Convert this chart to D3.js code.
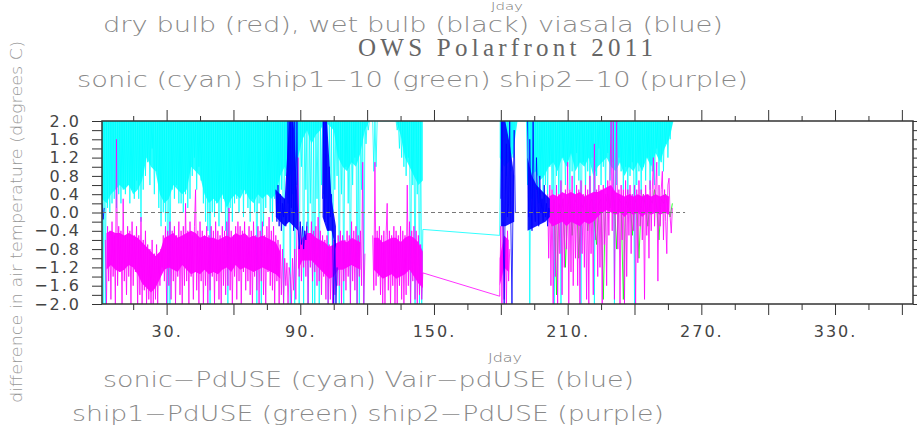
<!DOCTYPE html>
<html>
<head>
<meta charset="utf-8">
<script src="https://cdn.jsdelivr.net/npm/d3@7"></script>
<style>
  body { margin: 0; background: #fff; }
  svg { display: block; }
</style>
</head>
<body>
<svg id="chart" width="917" height="432"></svg>
<script>
// ---------------------------------------------------------------------------
// Air-temperature differences against the PdUSE reference, OWS Polarfront 2011.
// Traces are sampled every half Julian day from their start day; the dense
// core of each record is kept as a two-day envelope. null = no data.
// ---------------------------------------------------------------------------
const dayStep = 0.5;
const bandStep = 2;

// sonic − PdUSE (cyan) trace
const sonicLeg1Start = 1;
const sonicLeg1 = [
  2,-2,2,-2,2,0.1,2,0.0,2,0.2,
  2,0.3,2,0.1,2,0.4,2,0.2,2,0.5,
  2,0.4,2,0.6,2,0.2,2,0.5,2,0.3,
  2,0.7,2,0.3,2,-0.2,2,0.5,2,0.8,
  2,1.1,2,0.6,2,1.4,2,0.4,2,0.9,
  2,0.1,2,-0.3,2,0.0,2,-0.2,2,-2,
  2,-2,2,0.5,2,0.3,2,0.6,2,0.2,
  2,0.2,2,0.0,2,0.4,2,0.1,2,0.3,
  2,0.8,2,1.2,2,0.5,2,1.0,2,0.7,
  2,0.2,2,-0.2,2,-0.4,2,-2,2,0.0,
  2,-0.1,2,0.2,2,-0.3,2,0.0,2,0.3,
  2,-0.4,2,-2,2,0.1,2,-0.2,2,0.2,
  2,0.3,2,0.0,2,0.5,2,-0.1,2,0.4,
  2,0.1,2,-0.2,2,0.3,2,0.0,2,-2,
  2,0.2,2,-2,2,-0.3,2,0.1,2,0.4,
  2,0.0,2,-0.2,2,0.3,2,-0.1,2,0.2,
  2,0.5,2,-2,2,0.8,2,0.2,2,-2,
  2,0.4,2,-2,2,0.6,2,-2,2,1.0,
  2,-2,2,0.5,2,-2,2,0.2,2,-2,
  2,-2,2,0.3,2,-2,2,0.6,2,0.4,
  2,0.3,2,-2,2,0.0,2,-2,2,0.5,
  2,0.8,2,-2,2,0.4,2,-2,2,1.0,
  2,0.2,2,-2,2,0.6,2,1.2,2,-2,
  2,-2,2,0.5,2,-2,2,1.5,2,1.8,
  2,2,2,2,0.9,2,1.0,2,2,2,
  2,2,2,2,2,2,2,2,2,2,
  2,2,2,2,2,1.8,2,1.4,2,1.2,
  2,1.0,2,0.8,2,1.2,2,-2,2,0.6,
  2,-2,2,0.4,2,-2,2,-2,-0.37
];
const sonicLeg2Start = 179.5;
const sonicLeg2 = [
  -0.5,2,0.9,2,1.1,2,0.8,2,1.3,2,
  0.9,2,1.2,2,2,2,2,2,2,2,
  2,2,2,2,2,0.6,2,-2,2,0.3,
  2,0.0,2,0.5,2,0.2,2,0.8,2,0.4,
  2,0.6,2,0.3,2,1.0,2,0.5,2,-2,
  2,0.8,2,0.4,2,-2,2,1.2,2,0.6,
  2,1.0,2,0.5,2,0.9,2,0.3,2,1.3,
  2,0.7,2,-2,2,1.1,2,0.5,2,0.9,
  2,0.4,2,1.2,2,-2,2,0.8,2,1.4,
  2,0.6,2,1.0,2,0.5,2,1.3,2,0.7,
  2,1.1,2,-2,2,0.6,2,1.2,2,0.9,
  2,0.5,2,1.0,2,0.4,2,0.8,2,1.1,
  2,-2,2,0.6,2,0.9,2,0.4,2,1.0,
  2,0.7,2,1.2,2,0.5,2,0.9,2,0.6,
  2,1.4,2,0.8,2,1.1,2,0.9,2,1.5,
  2,1.2,2,1.6,2,2
];
// sonic − PdUSE dense core: from the top of the scale down to this floor
const sonicFloor1Start = 1;
const sonicFloor1 = [
  0.3,0.2,0.4,0.5,0.6,0.5,0.6,0.4,0.5,0.7,
  1.2,1.0,0.9,0.4,0.2,0.3,0.6,0.5,0.4,0.5,
  1.0,0.9,0.8,0.4,0.2,0.3,0.2,0.4,0.1,0.3,
  0.4,0.3,0.5,0.3,0.2,0.4,0.3,0.4,0.3,0.4,
  0.8,1.0,0.8,0.9,1.2,1.6,1.8,1.5,1.7,1.8,
  2,1.9,1.8,1.2,1.0,0.9,1.1,1.0,1.3,1.8,
  2,2,2,2,2,2,2,1.7,1.2,1.0,
  0.8,0.6,0.7
];
const sonicFloor2Start = 179.5;
const sonicFloor2 = [
  1.2,1.0,1.1,1.3,2,2,2,0.8,0.9,0.7,
  0.8,1.0,1.1,0.9,1.2,1.0,1.3,0.9,1.1,1.0,
  1.2,0.8,1.0,1.1,1.2,1.0,0.9,1.1,0.8,1.0,
  0.9,1.1,0.9,1.2,1.0,1.3,1.1,1.4,1.6,2
];

// ship2 − PdUSE (purple) trace
const ship2Leg1Start = 2.5;
const ship2Leg1 = [
  -0.6,-2,-0.3,-1.5,-0.4,-1.9,-0.2,-1.4,-0.5,-2,
  1.6,-1.6,-0.3,-1.3,-0.4,-2,0.3,-1.5,-0.5,-1.8,
  -0.3,-1.4,-0.4,-2,-0.2,-1.6,-0.5,-1.3,-0.3,-2,
  -0.5,-1.8,-0.1,-2,-0.6,-1.7,-0.4,-2,-0.7,-1.9,
  -0.8,-2,-0.6,-2,-0.9,-1.9,-0.7,-2,-0.9,-1.6,
  -0.8,-1.2,-0.5,-1.5,-0.3,-2,-0.4,-1.6,-0.2,-1.9,
  -0.4,-1.5,-0.3,-2,-0.5,-1.4,-0.2,-1.8,-0.4,-2,
  -0.3,-1.6,0.2,-1.5,-0.4,-2,-0.2,-1.4,-0.5,-1.9,
  -0.3,0.5,-1.7,-0.4,-2,-0.2,-1.5,-0.4,-2,-0.5,
  -1.6,-0.3,-2,-0.5,-1.7,-0.3,-1.4,-0.4,-2,-0.2,
  -1.5,-0.4,-1.9,-0.5,-2,-0.3,-1.6,-0.4,-1.8,-0.2,
  -1.6,0.1,-1.7,-0.4,-2,-0.5,-1.4,-0.3,-1.9,-0.2,
  -1.5,-0.3,-2,-0.4,-1.3,-0.2,-1.7,-0.5,-1.5,-0.3,
  -1.8,-0.4,-2,-0.2,-1.4,-0.5,-1.7,-0.3,-2,-0.4,
  -1.5,-0.2,-1.8,-0.5,-2,-0.3,-1.3,-0.1,-1.6,-0.4,
  -1.7,-0.3,-2,-0.5,-1.5,-0.6,-2,-0.7,-1.8,-0.8,
  -2,-1.0,-1.6,-1.1,-2,-1.2,-1.4,-2,-1.0,-1.7,
  -0.8,-1.9,-0.4,1.2,-1.4,-0.3,-1.5,-0.6,-1.2,-0.4,
  -1.4,-0.3,-2,-0.5,-1.2,-0.2,-1.5,-0.4,-1.3,-0.3,
  -1.6,-0.1,-1.5,-0.4,-1.8,-0.5,-1.4,-0.6,-1.9,-0.5,
  -2,-0.7,-1.9,-0.8,-2,-0.6,-1.8,-0.7,-1.6,-0.5,
  -1.6,-0.4,-2,-0.5,-1.5,-0.6,-1.7,-0.4,-1.4,-0.5,
  -2,-0.2,-1.5,-0.4,-1.7,-0.3,-2,-0.5,-1.4,-0.4,
  -1.6,1.1,-2,-0.9,null,null,null,null,null,null,
  -0.5,-1.7,1.1,-1.6,-0.4,-1.4,-0.3,-1.8,-0.5,-2,
  -0.4,-2,-0.5,0.2,-1.7,-0.4,-2,-0.5,-1.6,-0.3,
  -2,-0.4,-2,-0.5,-1.6,-0.3,-1.9,-0.4,-2,-0.5,
  -1.8,0.6,-1.6,-0.2,-2,-0.4,-1.5,-0.3,-1.9,-0.4,
  -2,-0.5,-1.8,-0.7,-1.9,-1.32
];
const ship2Leg2Start = 179.5;
const ship2Leg2 = [
  -1.83,-0.3,-2,-0.2,-1.9,-0.6,-2,-0.4,-1.5,-0.8,
  null,null,null,null,null,null,null,null,null,null,
  null,null,null,null,null,null,null,null,null,null,
  null,null,null,null,null,null,null,null,null,null,
  null,null,null,0.4,-1.0,0.6,-1.6,0.5,-2,0.3,
  -1.4,0.6,-2,0.4,-0.9,0.7,-1.8,0.3,-1.2,0.5,
  -0.8,1.1,-2,0.5,-1.3,0.8,-1.6,0.4,-1.0,0.6,
  -1.6,0.5,-2,0.7,-0.9,0.4,-1.2,0.6,-1.9,0.5,
  -2,0.8,-0.9,0.4,-1.8,1.5,-0.6,0.5,-1.4,0.6,
  -1.2,0.5,-2,0.6,-0.7,0.4,-1.6,0.7,-0.5,0.8,
  2,-0.4,2,-1.9,0.6,2,-0.8,0.5,-2,0.6,
  -0.6,0.5,-2,0.7,-1.4,0.5,-0.5,0.6,-0.9,0.4,
  -0.4,0.6,-2,0.5,-1.1,0.7,-0.3,0.5,-0.6,0.4,
  -1.9,0.6,-0.5,0.4,-1.0,0.7,-0.4,0.5,1.2,-0.3,
  0.5,1.1,-1.5,0.6,-0.3,0.5,0.9,-0.6,0.5,-0.2,
  -0.9,0.6,0.75,-0.1,-0.45,0.1
];
// ship2 − PdUSE dense core (upper and lower edge)
const ship2Band1Start = 3;
const ship2Upper1 = [
  -0.45,-0.4,-0.45,-0.45,-0.5,-0.45,-0.5,-0.55,-0.65,-0.75,
  -0.85,-0.95,-0.85,-0.55,-0.5,-0.45,-0.55,-0.5,-0.45,-0.4,
  -0.45,-0.55,-0.5,-0.55,-0.55,-0.6,-0.55,-0.5,-0.55,-0.45,
  -0.5,-0.45,-0.55,-0.5,-0.55,-0.5,-0.55,-0.6,-0.65,-0.85,
  null,null,null,-0.75,-0.55,-0.45,-0.45,-0.55,-0.6,-0.65,
  -0.75,-0.7,-0.65,-0.6,-0.65,-0.55,-0.6,-0.65,null,null,
  -0.55,-0.55,-0.65,-0.6,-0.55,-0.55,-0.65,-0.55,-0.5,-0.55,
  -0.65,-0.85
];
const ship2Lower1 = [
  -1.25,-1.15,-1.25,-1.3,-1.25,-1.15,-1.2,-1.35,-1.55,-1.65,
  -1.75,-1.65,-1.45,-1.25,-1.2,-1.25,-1.3,-1.15,-1.25,-1.35,
  -1.3,-1.35,-1.25,-1.35,-1.3,-1.35,-1.25,-1.2,-1.3,-1.15,
  -1.25,-1.2,-1.25,-1.3,-1.25,-1.2,-1.25,-1.3,-1.35,-1.45,
  null,null,null,-1.25,-1.05,-1.05,-1.05,-1.15,-1.25,-1.35,
  -1.45,-1.4,-1.25,-1.25,-1.2,-1.15,-1.2,-1.25,null,null,
  -1.25,-1.35,-1.45,-1.4,-1.35,-1.45,-1.4,-1.35,-1.25,-1.4,
  -1.55,-1.65
];
const ship2Band2Start = 179.5;
const ship2Upper2 = [
  -1.0,-0.5,-0.6,null,null,null,null,null,null,null,
  null,0.35,0.4,0.35,0.45,0.4,0.45,0.4,0.45,0.35,
  0.4,0.45,0.45,0.5,0.55,0.6,0.45,0.4,0.35,0.4,
  0.35,0.4,0.35,0.4,0.35,0.4,0.35,0.4,0.35,null
];
const ship2Lower2 = [
  -1.6,-1.2,-1.3,null,null,null,null,null,null,null,
  null,-0.2,-0.3,-0.25,-0.2,-0.3,-0.2,-0.25,-0.3,-0.2,
  -0.25,-0.2,-0.1,0.0,0.05,0.0,-0.05,0.0,-0.1,0.0,
  -0.05,0.0,-0.1,0.0,-0.05,0.0,-0.05,0.0,-0.05,null
];

// ship1 − PdUSE (green), one sample per day
const ship1Start = 202;
const ship1Step = 1;
const ship1Values = [
  0.2,-0.3,0.3,-1.8,0.2,0.0,0.3,-1.2,0.1,0.4,
  -0.5,0.2,0.3,-1.0,0.2,0.1,0.4,-0.4,0.2,0.3,
  -0.2,-0.7,0.2,0.3,-1.9,0.2,0.4,0.1,0.5,0.2,
  -0.8,0.3,0.2,-1.9,0.3,0.1,0.4,-0.5,0.2,0.3,
  -1.0,0.2,0.4,0.1,-0.3,0.3,0.2,0.5,0.1,-0.6,
  0.3,0.2,0.4,0.1,-0.1,0.2
];

// Vair − pdUSE (blue), only the short stretches with valid data
const vairLegs = [
  { start: 1,   values: [0.2,-0.15,0.1],
    bandStart: 1,   upper: [], lower: [] },
  { start: 79,  values: [0.5,-0.2,0.6,-0.3,0.4,-0.4,0.2,-0.1,0.3,-0.3,
                         0.0,2,-0.2,2,0.1,2,-0.4,2,0.0,2,
                         -0.3,-0.8,-0.2,-0.7,-0.3,-0.8,-0.4,-0.6,-0.2],
    bandStart: 79,  upper: [0.5,0.4,0.3,2,2,0.0], lower: [-0.1,-0.2,-0.3,-0.2,-0.3,-0.4] },
  { start: 100, values: [0.3,2,-0.2,2,0.1,-0.4,1.0,-0.1,0.4,-0.3,-2,-0.6,-2,-1.2],
    bandStart: 100, upper: [2,2,0.3,-0.3], lower: [-0.1,-0.4,-0.4,-0.8] },
  { start: 180, values: [0.3,2,-0.2,-2,0.4,1.5,-0.1,0.2,2,-0.2,-2,0.3,1.8,0.0],
    bandStart: 180, upper: [2,2,1.5,0.8], lower: [-0.3,-0.3,-0.25,-0.2] },
  { start: 192, values: [2,-0.1,1.6,0.3,-0.4,2,0.1,-0.2,1.2,0.4,
                         -0.3,0.8,0.0,0.3,-0.2,0.6,-0.1,0.2,-0.3,0.1,0.0],
    bandStart: 192, upper: [1.2,0.8,0.6,0.5,0.4,0.3], lower: [-0.4,-0.35,-0.3,-0.25,-0.2,-0.1] }
];

// zero reference line across the sampled period
const zeroLineDays = [1, 262.7];
const zeroLineValues = [0, 0];

// axes
const dayDomain = [1, 365];
const tempDomain = [-2, 2];
const xLabelDays = [30, 90, 150, 210, 270, 330];
const xLabels = ["30.", "90.", "150.", "210.", "270.", "330."];
const yLabelValues = [2.0, 1.6, 1.2, 0.8, 0.4, 0.0, -0.4, -0.8, -1.2, -1.6, -2.0];
const yLabels = ["2.0", "1.6", "1.2", "0.8", "0.4", "0.0", "\u22120.4", "\u22120.8", "\u22121.2", "\u22121.6", "\u22122.0"];

// text
const topAxisTitle = "Jday";
const titleLine1 = "dry bulb (red), wet bulb (black) viasala (blue)";
const titleMain = "OWS Polarfront 2011";
const titleLine3 = "sonic (cyan) ship1\u221210 (green) ship2\u221210 (purple)";
const xAxisTitle = "Jday";
const yAxisTitle = "difference in air temperature (degrees C)";
const footLine1 = "sonic\u2212PdUSE (cyan) Vair\u2212pdUSE (blue)";
const footLine2 = "ship1\u2212PdUSE (green) ship2\u2212PdUSE (purple)";

// ---------------------------------------------------------------------------
const svg = d3.select("#chart");
const box = { left: 102, right: 913, top: 121, bottom: 304 };
const sansLight = "'DejaVu Sans', 'Noto Sans', sans-serif";

const x = d3.scaleLinear().domain(dayDomain).range([box.left, box.right]);
const y = d3.scaleLinear().domain(tempDomain).range([box.bottom, box.top]);

function legPoints(start, values, step = dayStep) {
  return values.map((v, i) => ({ day: start + i * step, value: v }));
}
function bandPoints(start, upper, lower) {
  return upper.map((u, i) => ({ day: start + i * bandStep, hi: u, lo: lower[i] }));
}

const line = d3.line()
  .defined(d => d.value !== null)
  .x(d => x(d.day))
  .y(d => y(d.value));

const band = d3.area()
  .defined(d => d.hi !== null && d.lo !== null)
  .x(d => x(d.day))
  .y0(d => y(d.lo))
  .y1(d => y(d.hi));

svg.append("defs").append("clipPath").attr("id", "plotClip")
  .append("rect")
  .attr("x", box.left).attr("y", box.top)
  .attr("width", box.right - box.left).attr("height", box.bottom - box.top);

const data = svg.append("g").attr("clip-path", "url(#plotClip)");

function drawBand(points, color, opacity) {
  data.append("path").datum(points)
    .attr("fill", color).attr("fill-opacity", opacity).attr("stroke", "none")
    .attr("d", band);
}
function drawTrace(points, color) {
  data.append("path").datum(points)
    .attr("fill", "none").attr("stroke", color)
    .attr("stroke-width", 0.8).attr("stroke-linejoin", "round")
    .attr("d", line);
}

const cyan = "#00ffff", blue = "#0000ff", green = "#00ff00", purple = "#ff00ff";

// sonic: core hangs from the top of the scale
drawBand(bandPoints(sonicFloor1Start, sonicFloor1.map(() => 2), sonicFloor1), cyan, 0.85);
drawBand(bandPoints(sonicFloor2Start, sonicFloor2.map(() => 2), sonicFloor2), cyan, 0.85);
drawTrace(legPoints(sonicLeg1Start, sonicLeg1).concat(legPoints(sonicLeg2Start, sonicLeg2)), cyan);

drawTrace(legPoints(ship1Start, ship1Values, ship1Step), green);

drawBand(bandPoints(ship2Band1Start, ship2Upper1, ship2Lower1), purple, 0.95);
drawBand(bandPoints(ship2Band2Start, ship2Upper2, ship2Lower2), purple, 0.95);
drawTrace(legPoints(ship2Leg1Start, ship2Leg1).concat(legPoints(ship2Leg2Start, ship2Leg2)), purple);

vairLegs.forEach(leg => {
  drawBand(bandPoints(leg.bandStart, leg.upper, leg.lower), blue, 0.9);
  drawTrace(legPoints(leg.start, leg.values), blue);
});

data.append("path")
  .datum(zeroLineDays.map((d, i) => ({ day: d, value: zeroLineValues[i] })))
  .attr("fill", "none").attr("stroke", "#777").attr("stroke-width", 1)
  .attr("stroke-dasharray", "4,3")
  .attr("d", line);

// frame and ticks
const axisColor = "#333";
function styleAxis(g) {
  g.select(".domain").remove();
  g.selectAll(".tick line").attr("stroke", axisColor).attr("stroke-width", 1);
  g.selectAll(".tick text").attr("fill", "#444")
    .attr("font-family", sansLight).attr("font-size", 16).attr("letter-spacing", 2);
}

const majorDays = d3.range(30, 366, 30);
const minorDays = d3.range(15, 366, 30);
const yTicks = d3.range(-2, 2.001, 0.2);

// bottom: long ticks every 30 days, short ones in between
svg.append("g").attr("transform", `translate(0,${box.bottom})`)
  .call(d3.axisBottom(x).tickValues(majorDays).tickSize(11).tickFormat(""))
  .call(styleAxis);
svg.append("g").attr("transform", `translate(0,${box.bottom})`)
  .call(d3.axisBottom(x).tickValues(minorDays).tickSize(6).tickFormat(""))
  .call(styleAxis);
svg.append("g").attr("transform", `translate(0,${box.bottom})`)
  .call(d3.axisBottom(x).tickValues(xLabelDays).tickSize(0).tickPadding(22)
    .tickFormat((d, i) => xLabels[i]))
  .call(styleAxis);

// top
svg.append("g").attr("transform", `translate(0,${box.top})`)
  .call(d3.axisTop(x).tickValues(majorDays).tickSize(11).tickFormat(""))
  .call(styleAxis);
svg.append("g").attr("transform", `translate(0,${box.top})`)
  .call(d3.axisTop(x).tickValues(minorDays).tickSize(5).tickFormat(""))
  .call(styleAxis);

// left / right
svg.append("g").attr("transform", `translate(${box.left},0)`)
  .call(d3.axisLeft(y).tickValues(yTicks).tickSize(10).tickFormat(""))
  .call(styleAxis);
svg.append("g").attr("transform", `translate(${box.left},0)`)
  .call(d3.axisLeft(y).tickValues(yLabelValues).tickSize(0).tickPadding(21)
    .tickFormat((d, i) => yLabels[i]))
  .call(styleAxis);
svg.append("g").attr("transform", `translate(${box.right},0)`)
  .call(d3.axisRight(y).tickValues(yTicks).tickSize(5).tickFormat(""))
  .call(styleAxis);

svg.append("rect")
  .attr("x", box.left).attr("y", box.top)
  .attr("width", box.right - box.left).attr("height", box.bottom - box.top)
  .attr("fill", "none").attr("stroke", axisColor).attr("stroke-width", 1.5);

// titles
function label(text, px, py, opts) {
  const t = svg.append("text").text(text)
    .attr("x", px).attr("y", py)
    .attr("font-family", opts.family || sansLight)
    .attr("font-weight", opts.weight || 200)
    .attr("font-size", opts.size)
    .attr("fill", opts.fill || "#888")
    .attr("text-anchor", opts.anchor || "start");
  if (opts.length) t.attr("textLength", opts.length).attr("lengthAdjust", opts.adjust || "spacingAndGlyphs");
  if (opts.rotate) t.attr("transform", `rotate(${opts.rotate},${px},${py})`);
  return t;
}

label(topAxisTitle, 507, 10, { size: 11, anchor: "middle", fill: "#777", length: 32 });
label(titleLine1, 103, 32, { size: 22, length: 620 });
label(titleMain, 358, 56, { size: 25, family: "'Liberation Serif', 'DejaVu Serif', serif", weight: 400, fill: "#666", length: 295, adjust: "spacing" });
label(titleLine3, 77, 87, { size: 22, length: 671 });
label(xAxisTitle, 505, 362, { size: 12, anchor: "middle", fill: "#777", length: 34 });
label(footLine1, 103, 387, { size: 22, length: 531 });
label(footLine2, 72, 421, { size: 22, length: 592 });
label(yAxisTitle, 22, 222, { size: 15, anchor: "middle", fill: "#999", length: 362, rotate: -90 });
</script>
</body>
</html>
